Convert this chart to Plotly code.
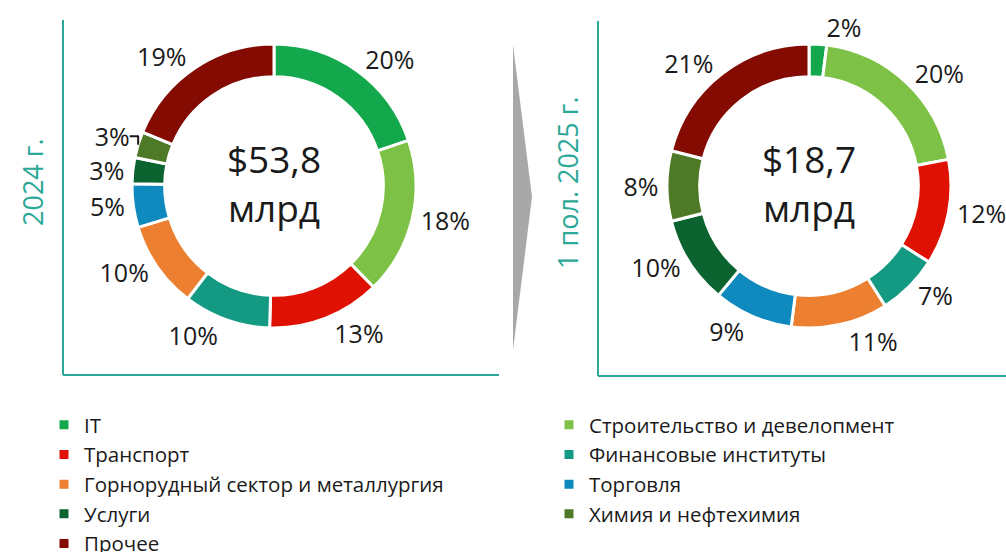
import plotly.graph_objects as go

W, H = 1006, 552

categories = [
    "IT",
    "Строительство и девелопмент",
    "Транспорт",
    "Финансовые институты",
    "Горнорудный сектор и металлургия",
    "Торговля",
    "Услуги",
    "Химия и нефтехимия",
    "Прочее",
]
colors = ["#14A84C", "#7DC246", "#DE1102", "#149983", "#EC7F30",
          "#0E8ABE", "#0B6430", "#4E7A28", "#830B02"]

shares_2024 = [20, 18, 13, 10, 10, 5, 3, 3, 19]
shares_2025h1 = [2, 20, 12, 7, 11, 9, 10, 8, 21]

total_2024 = "$53,8<br>млрд"
total_2025h1 = "$18,7<br>млрд"

period_labels = ["2024 г.", "1 пол. 2025 г."]

FONT = "Open Sans"
TEAL = "#2BA896"


def px(x):
    return x / W


def py(y):
    return 1 - y / H


def pie(values, title, cx, cy, r, show):
    return go.Pie(
        labels=categories,
        values=values,
        text=[f"{v}%" for v in values],
        texttemplate="%{text}",
        textposition="outside",
        textfont=dict(family=FONT, size=25, color="#1a1a1a"),
        hole=0.77,
        sort=False,
        direction="clockwise",
        rotation=0,
        marker=dict(colors=colors, line=dict(color="white", width=3)),
        domain=dict(x=[px(cx - r), px(cx + r)], y=[py(cy + r), py(cy - r)]),
        title=dict(text=title, position="middle center",
                   font=dict(family=FONT, size=37, color="#1a1a1a")),
        showlegend=show,
        automargin=False,
        hoverinfo="label+text",
    )


fig = go.Figure()
fig.add_trace(pie(shares_2024, total_2024, 274, 186, 142, True))
fig.add_trace(pie(shares_2025h1, total_2025h1, 809, 186, 142, False))

shapes = [
    # left frame
    dict(type="line", xref="paper", yref="paper", x0=px(63), x1=px(63), y0=py(20), y1=py(375),
         line=dict(color=TEAL, width=2)),
    dict(type="line", xref="paper", yref="paper", x0=px(63), x1=px(499), y0=py(375), y1=py(375),
         line=dict(color=TEAL, width=2)),
    # right frame
    dict(type="line", xref="paper", yref="paper", x0=px(598), x1=px(598), y0=py(21), y1=py(376),
         line=dict(color=TEAL, width=2)),
    dict(type="line", xref="paper", yref="paper", x0=px(598), x1=px(1006), y0=py(376), y1=py(376),
         line=dict(color=TEAL, width=2)),
    # arrow
    dict(type="path", xref="paper", yref="paper",
         path=f"M {px(513)},{py(45)} L {px(532)},{py(197)} L {px(513)},{py(350)} Z",
         fillcolor="#A8A8A8", line=dict(width=0)),
]

annotations = [
    dict(text=period_labels[0], x=px(32), y=py(182), xref="paper", yref="paper",
         xanchor="center", yanchor="middle",
         showarrow=False, textangle=-90, font=dict(family=FONT, size=27, color=TEAL)),
    dict(text=period_labels[1], x=px(567), y=py(183), xref="paper", yref="paper",
         xanchor="center", yanchor="middle",
         showarrow=False, textangle=-90, font=dict(family=FONT, size=27, color=TEAL)),
]

fig.update_layout(
    width=W, height=H,
    margin=dict(l=0, r=0, t=0, b=0, autoexpand=False),
    paper_bgcolor="white",
    plot_bgcolor="white",
    shapes=shapes,
    annotations=annotations,
    legend=dict(
        orientation="h",
        x=px(44), y=py(405), xanchor="left", yanchor="top",
        entrywidth=460, entrywidthmode="pixels",
        font=dict(family=FONT, size=20.5, color="#1a1a1a"),
        traceorder="normal",
        bgcolor="rgba(0,0,0,0)",
    ),
)

fig.write_html("out.html", config={"displayModeBar": False},
               post_script="document.body.style.margin='0px';")
